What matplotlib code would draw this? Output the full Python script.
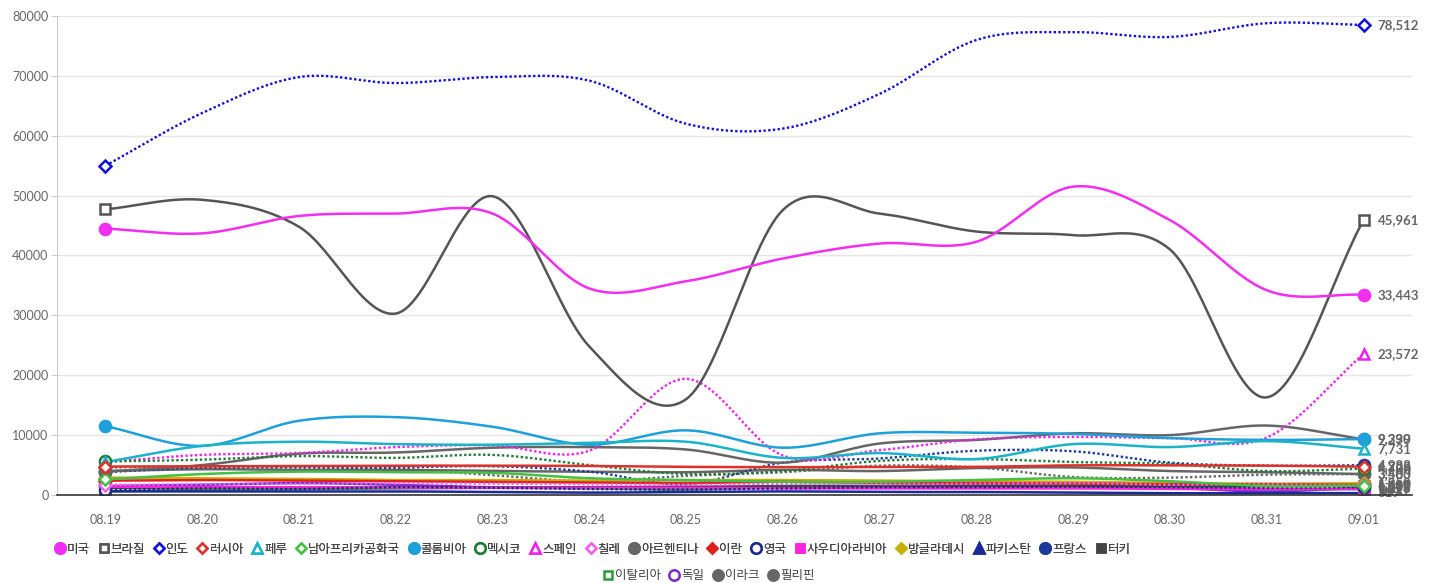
import numpy as np
import matplotlib
matplotlib.use("Agg")
import matplotlib.pyplot as plt
from matplotlib.lines import Line2D

plt.rcParams['font.family'] = ['Noto Sans CJK KR', 'DejaVu Sans']

dates = ["08.19", "08.20", "08.21", "08.22", "08.23", "08.24", "08.25",
         "08.26", "08.27", "08.28", "08.29", "08.30", "08.31", "09.01"]

usa = [44500, 43700, 46600, 47000, 47000, 34500, 35700, 39500, 42000, 42300, 51500, 45900, 34200, 33443]
brazil = [47700, 49300, 44800, 30300, 49900, 24800, 16000, 47600, 47000, 44000, 43400, 41000, 16300, 45961]
india = [55000, 63800, 69800, 68800, 69800, 69200, 62000, 61200, 67000, 76000, 77300, 76500, 78800, 78512]
russia = [4750, 4800, 4850, 4900, 4900, 4850, 4700, 4650, 4700, 4700, 4950, 4950, 4900, 4729]
peru = [5500, 8200, 8900, 8500, 8400, 8700, 8900, 6200, 7000, 6000, 8500, 8000, 9000, 7731]
south_africa = [2600, 3500, 3900, 3800, 3700, 2800, 2500, 2200, 2200, 2500, 2800, 2300, 1500, 1567]
colombia = [11500, 8200, 12400, 13000, 11400, 8400, 10800, 7900, 10300, 10400, 10200, 9500, 9200, 9339]
mexico = [5600, 5900, 6500, 6200, 6700, 5000, 3500, 4000, 5700, 6000, 5500, 5200, 4000, 4400]
spain = [5500, 6700, 7000, 8000, 8300, 7400, 19400, 6600, 7500, 9300, 9700, 9500, 9600, 23572]
chile = [1700, 1800, 1900, 1950, 1900, 1800, 1700, 1900, 1800, 1900, 2000, 1700, 1800, 1600]
argentina = [3900, 5000, 6900, 7100, 7900, 8000, 7600, 5400, 8600, 9200, 10300, 10000, 11600, 9290]
iran = [2400, 2500, 2400, 2300, 2200, 2100, 2000, 2200, 2000, 2000, 1900, 1800, 1800, 1682]
uk = [800, 1100, 1000, 1300, 1200, 1000, 900, 1100, 1300, 1300, 1400, 1300, 1200, 1295]
saudi = [1400, 1300, 1300, 1200, 1200, 1200, 1200, 1100, 1100, 1100, 1100, 1000, 1000, 1019]
bangladesh = [2900, 2800, 2700, 2500, 2500, 2400, 2500, 2500, 2400, 2300, 2200, 2000, 1900, 1950]
pakistan = [600, 600, 600, 600, 500, 400, 500, 600, 500, 500, 400, 300, 300, 319]
france = [3800, 4600, 4600, 4600, 4800, 3900, 1800, 5400, 6100, 7400, 7300, 5400, 4900, 4982]
turkey = [1200, 1250, 1250, 1250, 1250, 1300, 1400, 1450, 1500, 1500, 1500, 1500, 1500, 1517]
italy = [640, 850, 950, 1070, 1200, 1100, 900, 1350, 1400, 1460, 1440, 1370, 1000, 978]
germany = [1500, 1700, 2000, 1700, 1300, 1300, 1200, 1500, 1500, 1600, 1500, 1200, 600, 1218]
iraq = [4000, 4300, 4200, 4200, 4000, 3900, 3800, 4200, 4000, 4500, 4600, 4000, 3800, 3500]
philippines = [4600, 4800, 4700, 4400, 3300, 2300, 3200, 3800, 4900, 4600, 3000, 2900, 3400, 3483]

names = ["미국", "브라질", "인도", "러시아", "페루", "남아프리카공화국", "콜롬비아", "멕시코",
         "스페인", "칠레", "아르헨티나", "이란", "영국", "사우디아라비아", "방글라데시",
         "파키스탄", "프랑스", "터키", "이탈리아", "독일", "이라크", "필리핀"]
values = [usa, brazil, india, russia, peru, south_africa, colombia, mexico, spain, chile,
          argentina, iran, uk, saudi, bangladesh, pakistan, france, turkey, italy, germany,
          iraq, philippines]

# style: (color, marker, filled, linestyle)
styles = [
    ("#f22ef2", "o", True, "-"),
    ("#555555", "s", False, "-"),
    ("#1010d8", "D", False, ":"),
    ("#e0302a", "D", False, "-"),
    ("#1ab3c8", "^", False, "-"),
    ("#45c045", "D", False, "-"),
    ("#1ea0da", "o", True, "-"),
    ("#1e7b34", "o", False, ":"),
    ("#ee22ee", "^", False, ":"),
    ("#f060f0", "D", False, ":"),
    ("#666666", "o", True, "-"),
    ("#e02020", "D", True, "-"),
    ("#1a2a8a", "o", False, ":"),
    ("#ff22dd", "s", True, "-"),
    ("#c8b000", "D", True, "-"),
    ("#1a2a9a", "^", True, "-"),
    ("#1a3a9a", "o", True, ":"),
    ("#444444", "s", True, "-"),
    ("#2a9a3a", "s", False, "-"),
    ("#7a2ad0", "o", False, "-"),
    ("#666666", "o", True, "-"),
    ("#666666", "o", True, ":"),
]


def smooth(y, n=30):
    y = np.asarray(y, dtype=float)
    k = len(y)
    m = np.zeros(k)
    m[1:-1] = (y[2:] - y[:-2]) / 2.0
    m[0] = y[1] - y[0]
    m[-1] = y[-1] - y[-2]
    xs, ys = [], []
    for i in range(k - 1):
        t = np.linspace(0, 1, n, endpoint=(i == k - 2))
        h00 = 2 * t**3 - 3 * t**2 + 1
        h10 = t**3 - 2 * t**2 + t
        h01 = -2 * t**3 + 3 * t**2
        h11 = t**3 - t**2
        xs.append(i + t)
        ys.append(h00 * y[i] + h10 * m[i] + h01 * y[i + 1] + h11 * m[i + 1])
    return np.concatenate(xs), np.concatenate(ys)


W, H = 1436, 583
fig = plt.figure(figsize=(W / 100, H / 100), dpi=100)
ax = fig.add_axes([57 / W, (H - 495) / H, (1412 - 57) / W, (495 - 16) / H])

x = np.arange(len(dates))
msize = {"o": 8, "s": 6.5, "D": 6, "^": 7.5}

order = list(range(len(names)))[::-1]
for i in order:
    col, mk, filled, ls = styles[i]
    xs, ys = smooth(values[i])
    if ls == ":":
        ax.plot(xs, ys, color=col, lw=1.7, ls=(0, (1, 1)), zorder=3)
    else:
        ax.plot(xs, ys, color=col, lw=1.8, zorder=3)
    ax.plot([x[0], x[-1]], [values[i][0], values[i][-1]], ls="none", marker=mk,
            ms=msize[mk], mfc=col if filled else "white", mec=col, mew=1.8, zorder=4)
    ax.annotate(f"{values[i][-1]:,}", (x[-1], values[i][-1]), xytext=(10, 0),
                textcoords="offset points", va="center", ha="left", fontsize=9.5,
                fontweight="bold", color="#666666", family=["Lato", "DejaVu Sans"],
                zorder=5, annotation_clip=False)

ax.set_xlim(-0.5, len(dates) - 0.5)
ax.set_ylim(0, 80000)
ax.set_yticks(np.arange(0, 80001, 10000))
ax.set_yticklabels([str(v) for v in range(0, 80001, 10000)], family=["Lato", "DejaVu Sans"])
ax.set_xticks(x)
ax.set_xticklabels(dates, family=["Lato", "DejaVu Sans"])
ax.tick_params(axis="y", colors="#666666", labelsize=9, length=4, color="#cccccc", pad=2)
ax.tick_params(axis="x", colors="#666666", labelsize=9, length=0, pad=14)
ax.grid(axis="y", color="#e6e6e6", lw=1)
ax.set_axisbelow(True)
for s in ["top", "right"]:
    ax.spines[s].set_visible(False)
ax.spines["left"].set_color("#cccccc")
ax.spines["bottom"].set_color("#333333")
ax.spines["bottom"].set_linewidth(1.2)
ax.spines["bottom"].set_zorder(6)

handles = []
for i, nm in enumerate(names):
    col, mk, filled, ls = styles[i]
    handles.append(Line2D([], [], ls="none", marker=mk, ms=msize[mk] - 0.5,
                          mfc=col if filled else "white", mec=col, mew=1.8, label=nm))

leg1 = fig.legend(handles=handles[:18], loc="center", bbox_to_anchor=(593 / W, 1 - 549 / H),
                  ncol=18, frameon=False, fontsize=9, handlelength=0.7, handletextpad=0.2,
                  columnspacing=0.75, labelcolor="#444444")
fig.add_artist(leg1)
leg2 = fig.legend(handles=handles[18:], loc="center", bbox_to_anchor=(709 / W, 1 - 576 / H),
                  ncol=4, frameon=False, fontsize=9, handlelength=0.7, handletextpad=0.2,
                  columnspacing=0.75, labelcolor="#444444")

fig.savefig("out.png", dpi=100)
